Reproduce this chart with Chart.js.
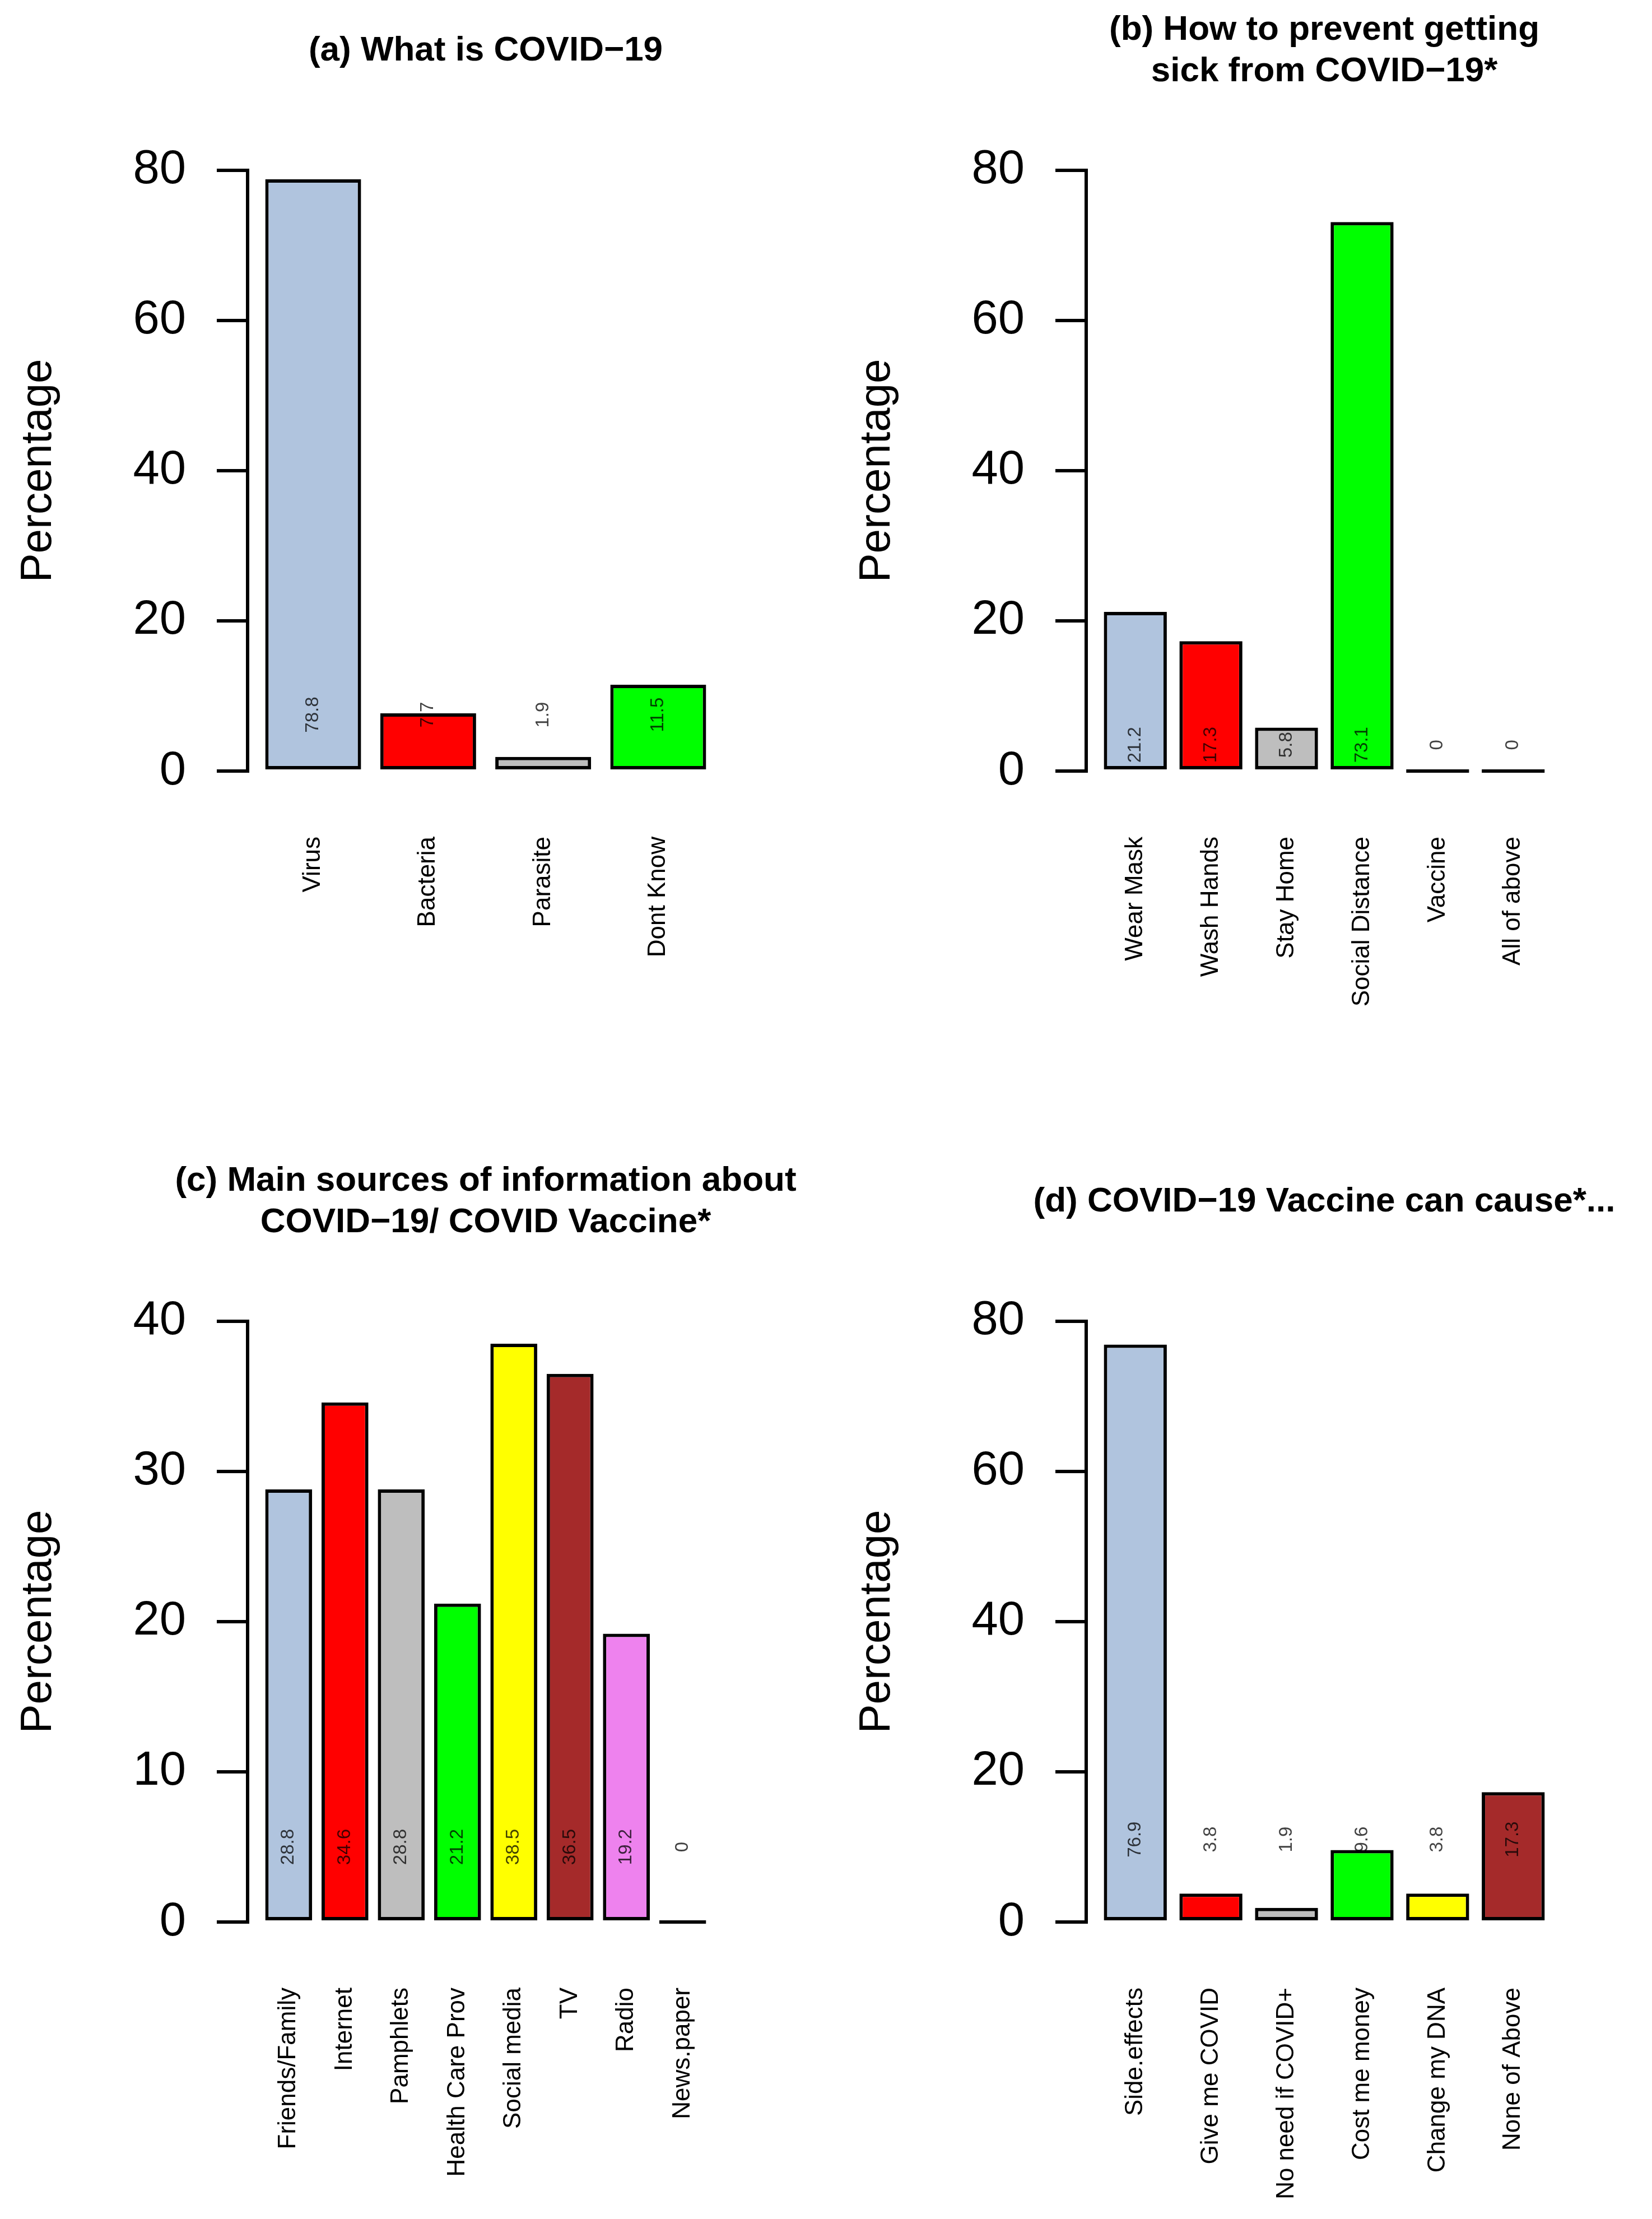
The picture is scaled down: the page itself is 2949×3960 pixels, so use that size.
<!DOCTYPE html>
<html>
<head>
<meta charset="utf-8">
<script src="https://cdn.jsdelivr.net/npm/chart.js@4.4.1/dist/chart.umd.min.js"></script>
<style>
  html, body { margin: 0; padding: 0; background: #fff; overflow: hidden; }
  #page { position: relative; width: 2949px; height: 3960px; background: #fff; overflow: hidden; }
  #page canvas { position: absolute; }
</style>
</head>
<body>
<div id="page"></div>
<script>
// --- data (percentages) ---
const whatLabels = ['Virus', 'Bacteria', 'Parasite', 'Dont Know'];
const whatValues = [78.8, 7.7, 1.9, 11.5];

const preventLabels = ['Wear Mask', 'Wash Hands', 'Stay Home', 'Social Distance', 'Vaccine', 'All of above'];
const preventValues = [21.2, 17.3, 5.8, 73.1, 0, 0];

const sourceLabels = ['Friends/Family', 'Internet', 'Pamphlets', 'Health Care Prov', 'Social media', 'TV', 'Radio', 'News.paper'];
const sourceValues = [28.8, 34.6, 28.8, 21.2, 38.5, 36.5, 19.2, 0];

const causeLabels = ['Side.effects', 'Give me COVID', 'No need if COVID+', 'Cost me money', 'Change my DNA', 'None of Above'];
const causeValues = [76.9, 3.8, 1.9, 9.6, 3.8, 17.3];

const ticks80 = [0, 20, 40, 60, 80];
const ticks40 = [0, 10, 20, 30, 40];

const barColors = ['#B0C4DE', '#FF0000', '#BEBEBE', '#00FF00', '#FFFF00', '#A52A2A', '#EE82EE', '#FFA500'];

const FONT = '"Liberation Sans", Arial, Helvetica, sans-serif';
Chart.defaults.font.family = FONT;
Chart.defaults.color = '#000';

// layout of each panel (pixels inside its canvas)
const AREA_LEFT = 442, AREA_WIDTH = 850, AREA_TOP = 261, AREA_BOTTOM = 1419;
const TITLE_SIZE = 62, TITLE_MID = 91;
// canvas is symmetric around the plot so the title sits centred over it
const PANEL_W = 2 * (AREA_LEFT + AREA_WIDTH / 2);

const panels = [
  { title: ['(a) What is COVID\u221219'], labels: whatLabels, values: whatValues, ticks: ticks80, labelAt: 7.5,
    left: 0, top: 0, height: 2054 },
  { title: ['(b) How to prevent getting', 'sick from COVID\u221219*'], labels: preventLabels, values: preventValues, ticks: ticks80, labelAt: 3.5,
    left: 1497, top: 0, height: 2054 },
  { title: ['(c) Main sources of information about', 'COVID\u221219/ COVID Vaccine*'], labels: sourceLabels, values: sourceValues, ticks: ticks40, labelAt: 5,
    left: 0, top: 2054, height: 1906 },
  { title: ['(d) COVID\u221219 Vaccine can cause*...'], labels: causeLabels, values: causeValues, ticks: ticks80, labelAt: 11,
    left: 1497, top: 2054, height: 1906 }
];

// small rotated numbers written on each bar
const valueLabelPlugin = {
  id: 'valueLabels',
  afterDatasetsDraw(chart, args, opts) {
    const ctx = chart.ctx;
    const y = chart.scales.y.getPixelForValue(opts.at);
    const ds = chart.data.datasets[0];
    ctx.save();
    ctx.font = opts.size + 'px ' + FONT;
    ctx.fillStyle = opts.color;
    ctx.textAlign = 'center';
    ctx.textBaseline = 'middle';
    chart.getDatasetMeta(0).data.forEach((bar, i) => {
      ctx.save();
      ctx.translate(bar.x, y);
      ctx.rotate(-Math.PI / 2);
      ctx.fillText(String(ds.data[i].y), 0, 0);
      ctx.restore();
    });
    ctx.restore();
  }
};

// R style y axis line: only from first to last tick
const axisLinePlugin = {
  id: 'axisLine',
  afterDraw(chart) {
    const s = chart.scales.y;
    const ctx = chart.ctx;
    const x = chart.chartArea.left;
    ctx.save();
    ctx.strokeStyle = '#000';
    ctx.lineWidth = 6;
    ctx.lineCap = 'square';
    ctx.beginPath();
    ctx.moveTo(x, s.getPixelForValue(s.ticks[0].value));
    ctx.lineTo(x, s.getPixelForValue(s.ticks[s.ticks.length - 1].value));
    ctx.stroke();
    ctx.restore();
  }
};

const page = document.getElementById('page');

panels.forEach(p => {
  const canvas = document.createElement('canvas');
  canvas.width = PANEL_W;
  canvas.height = p.height;
  canvas.style.left = p.left + 'px';
  canvas.style.top = p.top + 'px';
  page.appendChild(canvas);

  const n = p.values.length;
  const centers = p.values.map((v, i) => 0.7 + 1.2 * i); // barplot positions
  const span = 1.2 * n - 0.2;
  const top = p.ticks[p.ticks.length - 1];

  const lh = TITLE_SIZE * 1.2;
  const padTop = TITLE_MID - p.title.length * lh / 2;
  const padBottom = AREA_TOP - padTop - p.title.length * lh;

  new Chart(canvas, {
    type: 'bar',
    data: {
      datasets: [{
        data: p.values.map((v, i) => ({ x: centers[i], y: v })),
        backgroundColor: barColors.slice(0, n),
        borderColor: '#000',
        borderWidth: 6,
        borderSkipped: false,
        barPercentage: 1 / 1.2,
        categoryPercentage: 1,
        minBarLength: 6
      }]
    },
    options: {
      responsive: false,
      animation: false,
      layout: { padding: 0 },
      scales: {
        x: {
          type: 'linear',
          offset: false,
          min: 0.2 - 0.04 * span,
          max: 1.2 * n + 0.04 * span,
          afterBuildTicks: s => { s.ticks = centers.map(v => ({ value: v })); },
          afterFit: s => { s.height = p.height - AREA_BOTTOM; },
          border: { display: false },
          grid: { display: false },
          ticks: {
            autoSkip: false,
            minRotation: 90,
            maxRotation: 90,
            padding: 66,
            font: { size: 44 },
            color: '#000',
            callback: (v, i) => p.labels[i]
          }
        },
        y: {
          min: -0.04 * top,
          max: 1.04 * top,
          afterBuildTicks: s => { s.ticks = p.ticks.map(v => ({ value: v })); },
          afterFit: s => { s.width = AREA_LEFT; },
          border: { display: false },
          grid: { display: true, drawOnChartArea: false, drawTicks: true, tickLength: 55, color: '#000', lineWidth: 6 },
          ticks: { font: { size: 85 }, color: '#000', padding: 55 },
          title: { display: true, text: 'Percentage', font: { size: 78 }, color: '#000', padding: { top: 23, bottom: 0 } }
        },
        // empty right margin, same width as the left axis, keeps the title centred on the plot
        margin: {
          type: 'linear',
          position: 'right',
          afterFit: s => { s.width = PANEL_W - AREA_LEFT - AREA_WIDTH; },
          border: { display: false },
          grid: { display: false },
          ticks: { display: false }
        }
      },
      plugins: {
        legend: { display: false },
        tooltip: { enabled: false },
        title: {
          display: true,
          text: p.title,
          color: '#000',
          font: { size: TITLE_SIZE, weight: 'bold' },
          padding: { top: padTop, bottom: padBottom }
        },
        valueLabels: { at: p.labelAt, size: 33, color: 'rgba(0,0,0,0.75)' }
      }
    },
    plugins: [valueLabelPlugin, axisLinePlugin]
  });
});
</script>
</body>
</html>
